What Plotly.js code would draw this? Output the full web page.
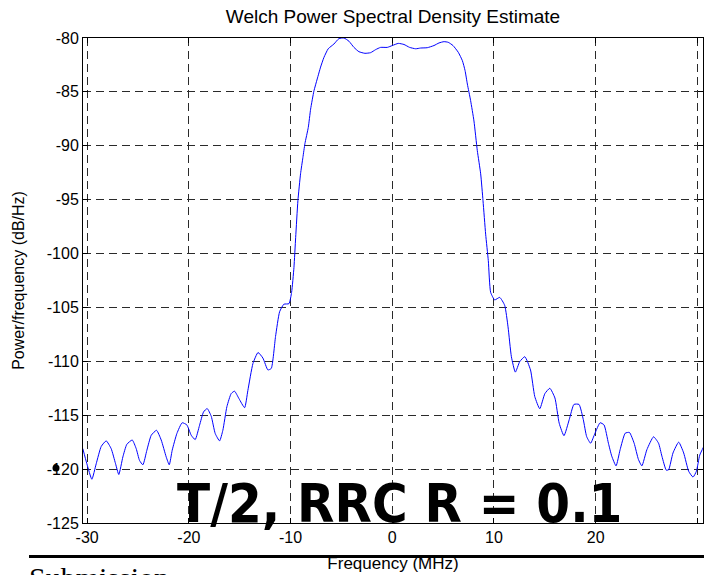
<!DOCTYPE html>
<html>
<head>
<meta charset="utf-8">
<script src="https://cdn.plot.ly/plotly-3.0.1.min.js"></script>
<style>
  html, body { margin: 0; padding: 0; background: #ffffff; overflow: hidden; }
  #chart { width: 704px; height: 575px; }
</style>
</head>
<body>
<div id="chart"></div>
<script>
// Frequency (MHz) and Welch PSD estimate (dB/Hz)
const freqMHz = [
  -30.43, -30.03, -29.54, -29.11, -28.62, -28.13, -27.64, -27.21, -26.89, -26.49,
  -26.10, -25.57, -25.18, -24.85, -24.52, -24.13, -23.70, -23.18, -22.72, -22.23,
  -21.93, -21.64, -21.18, -20.66, -20.20, -19.77, -19.38, -18.95, -18.56, -18.20,
  -17.80, -17.41, -16.98, -16.66, -16.26, -15.84, -15.51, -15.08, -14.52, -14.20,
  -13.70, -13.20, -12.72, -12.23, -11.90, -11.48, -11.08, -10.66, -10.16,
  -9.90, -9.67, -9.50, -9.28, -9.02, -8.79, -8.59, -8.26, -8.03, -7.70,
  -7.38, -7.05, -6.72, -6.30, -5.74, -5.25, -4.75, -4.26, -3.77, -3.28,
  -2.69, -2.13, -1.64, -1.15, -0.49, 0.00, 0.59, 1.15, 1.70, 2.30,
  2.79, 3.44, 4.10, 4.59, 5.08, 5.50, 5.97, 6.49, 6.89, 7.15,
  7.38, 7.70, 8.03, 8.36, 8.69, 8.92, 9.18, 9.44, 9.67, 10.07,
  10.56, 11.05, 11.38, 11.71, 12.10, 12.53, 13.03, 13.59, 14.01, 14.50,
  15.00, 15.49, 15.99, 16.41, 16.88, 17.40, 17.86, 18.36, 18.78, 19.11,
  19.50, 19.93, 20.43, 20.82, 21.25, 21.58, 22.00, 22.40, 22.90, 23.32,
  23.78, 24.20, 24.54, 25.03, 25.69, 26.18, 26.51, 26.94, 27.17, 27.60,
  28.16, 28.65, 29.14, 29.57, 29.90, 30.23, 30.63
];
const psdDb = [
  -118.10, -119.50, -120.94, -119.50, -117.90, -117.38, -118.10, -119.50, -120.50, -118.87,
  -117.70, -117.30, -118.10, -119.20, -119.60, -118.25, -116.86, -116.40, -117.30, -118.87,
  -119.60, -118.25, -116.70, -115.70, -115.90, -116.86, -117.26, -115.93, -114.70, -114.38,
  -115.10, -116.70, -117.38, -116.40, -114.20, -112.99, -112.77, -113.45, -114.30, -112.70,
  -110.20, -109.18, -109.70, -110.80, -110.66, -107.70, -105.40, -104.70, -104.65,
  -103.60, -101.30, -98.50, -95.10, -92.60, -91.10, -89.80, -88.30, -86.60, -84.90,
  -83.80, -82.70, -81.80, -81.00, -80.56, -80.06, -80.00, -80.30, -80.87, -81.27,
  -81.42, -81.36, -81.08, -80.87, -80.87, -80.70, -80.50, -80.60, -80.87, -81.00,
  -80.93, -80.90, -80.70, -80.46, -80.34, -80.40, -80.70, -81.33, -82.10, -83.00,
  -84.27, -85.80, -87.70, -90.45, -92.60, -95.10, -98.20, -100.65, -103.60, -104.30,
  -104.07, -104.80, -106.80, -109.57, -111.00, -110.03, -109.57, -110.80, -113.27, -114.40,
  -113.00, -112.50, -113.40, -115.74, -116.90, -115.40, -114.00, -114.00, -115.40, -116.98,
  -117.60, -116.67, -115.70, -115.90, -117.60, -118.80, -119.70, -118.20, -116.67, -116.60,
  -117.60, -119.10, -119.70, -118.20, -117.00, -117.60, -118.80, -120.10, -120.06, -118.50,
  -117.50, -118.50, -120.20, -120.74, -120.20, -118.70, -117.90
];
const xTickVals = [-30, -20, -10, 0, 10, 20, 30];
const yTickVals = [-125, -120, -115, -110, -105, -100, -95, -90, -85, -80];
const chartTitle = 'Welch Power Spectral Density Estimate';
const xTitle = 'Frequency (MHz)';
const yTitle = 'Power/frequency (dB/Hz)';
const overlayText = 'T/2, RRC R = 0.1';
const footerText = 'Submission';

const W = 704, H = 575;
const L = 83, R = 1, T = 38, B = 52;
const pw = W - L - R, ph = H - T - B;
const px = v => (v - L) / pw;          // pixel x -> paper x
const py = v => (H - B - v) / ph;      // pixel y -> paper y

const sans = 'Liberation Sans, Arial, Helvetica, sans-serif';

const trace = {
  type: 'scatter',
  mode: 'lines',
  x: freqMHz,
  y: psdDb,
  line: { color: '#0000ff', width: 1, shape: 'spline', smoothing: 0.5 },
  hoverinfo: 'x+y'
};

const layout = {
  width: W, height: H,
  margin: { l: L, r: R, t: T, b: B, pad: 0 },
  paper_bgcolor: '#ffffff',
  plot_bgcolor: '#ffffff',
  showlegend: false,
  font: { family: sans, size: 16, color: '#000000' },
  title: {
    text: chartTitle,
    font: { family: sans, size: 19, color: '#000000' },
    x: px(393), xref: 'paper', xanchor: 'center',
    y: 1 - 16 / H, yref: 'container', yanchor: 'middle'
  },
  xaxis: {
    range: [-30.41, 30.55],
    tickvals: xTickVals,
    ticktext: xTickVals.map(String),
    ticks: 'inside', ticklen: 5, tickcolor: '#000000', tickwidth: 1,
    showline: true, linecolor: '#000000', linewidth: 1, mirror: 'ticks',
    showgrid: true, gridcolor: '#2a2a2a', gridwidth: 1, griddash: '8px,5px',
    zeroline: false,
    tickfont: { family: sans, size: 16, color: '#000000' },
    title: { text: xTitle, font: { family: sans, size: 17, color: '#000000' }, standoff: 11 },
    automargin: false
  },
  yaxis: {
    range: [-125, -80],
    tickvals: yTickVals,
    ticktext: yTickVals.map(String),
    ticks: 'inside', ticklen: 5, tickcolor: '#000000', tickwidth: 1,
    showline: true, linecolor: '#000000', linewidth: 1, mirror: 'ticks',
    showgrid: true, gridcolor: '#2a2a2a', gridwidth: 1, griddash: '8px,5px',
    zeroline: false,
    tickfont: { family: sans, size: 16, color: '#000000' },
    title: { text: yTitle, font: { family: sans, size: 16, color: '#000000' }, standoff: 18 },
    automargin: false
  },
  shapes: [
    { type: 'line', xref: 'paper', yref: 'paper',
      x0: px(29), x1: px(720), y0: py(556.5), y1: py(556.5),
      line: { color: '#000000', width: 3 } },
    { type: 'circle', xref: 'paper', yref: 'paper',
      xsizemode: 'pixel', ysizemode: 'pixel',
      xanchor: px(56), yanchor: py(468),
      x0: -3.5, x1: 3.5, y0: -3.5, y1: 3.5,
      fillcolor: '#000000', line: { color: '#000000', width: 0 } }
  ],
  annotations: [
    { text: overlayText, xref: 'paper', yref: 'paper',
      x: px(400), y: 0, xanchor: 'center', yanchor: 'bottom', yshift: -14,
      showarrow: false,
      font: { family: 'DejaVu Sans Condensed, DejaVu Sans, sans-serif', size: 54, weight: 'bold', color: '#000000' } },
    { text: footerText, xref: 'paper', yref: 'paper',
      x: px(27), y: py(559), xanchor: 'left', yanchor: 'top',
      showarrow: false,
      font: { family: 'Liberation Serif, Times New Roman, serif', size: 30, color: '#000000' } }
  ]
};

Plotly.newPlot('chart', [trace], layout, { staticPlot: true, displayModeBar: false });
</script>
</body>
</html>
